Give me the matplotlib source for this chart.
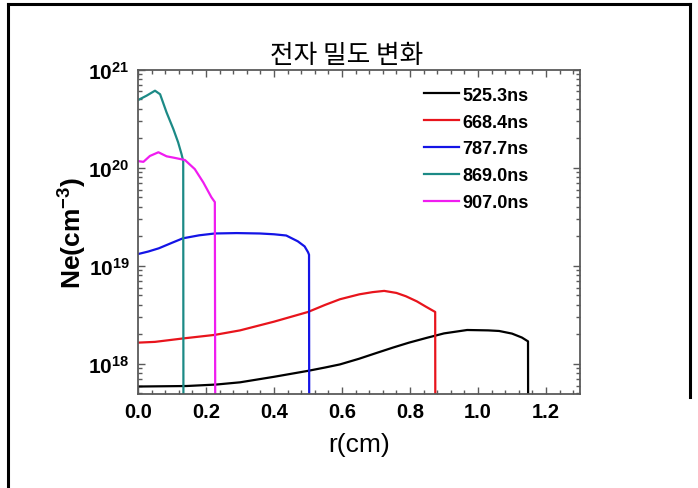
import matplotlib
matplotlib.use("Agg")
import matplotlib.pyplot as plt
from matplotlib.lines import Line2D
from matplotlib.ticker import MultipleLocator, LogLocator, NullFormatter

plt.rcParams['mathtext.fontset'] = 'custom'
plt.rcParams['mathtext.rm'] = 'Liberation Sans'
plt.rcParams['mathtext.bf'] = 'Liberation Sans:bold'

LATIN = ['Liberation Sans', 'DejaVu Sans']

# electron density profiles, r in cm, Ne in cm^-3 (last point = edge drop-off)
r_525 = [0, 0.143, 0.23, 0.3, 0.4, 0.5, 0.55, 0.594, 0.65, 0.70, 0.75, 0.797, 0.85,
         0.9, 0.968, 1.0, 1.03, 1.062, 1.10, 1.129, 1.147, 1.148]
ne_525 = [5.89e17, 5.96e17, 6.17e17, 6.5e17, 7.4e17, 8.51e17, 9.2e17, 9.9e17, 1.13e18,
          1.29e18, 1.47e18, 1.65e18, 1.85e18, 2.05e18, 2.22e18, 2.21e18, 2.2e18,
          2.17e18, 2.04e18, 1.86e18, 1.70e18, 1e16]

r_668 = [0, 0.05, 0.132, 0.226, 0.3, 0.4, 0.5, 0.55, 0.594, 0.651, 0.69, 0.724,
         0.76, 0.788, 0.82, 0.846, 0.874, 0.875]
ne_668 = [1.65e18, 1.68e18, 1.82e18, 1.98e18, 2.2e18, 2.7e18, 3.39e18, 4.0e18,
          4.57e18, 5.13e18, 5.4e18, 5.56e18, 5.3e18, 4.90e18, 4.35e18, 3.85e18,
          3.39e18, 1e16]

r_787 = [0, 0.03, 0.061, 0.1, 0.132, 0.18, 0.226, 0.29, 0.358, 0.4, 0.436,
         0.47, 0.49, 0.5, 0.503, 0.504]
ne_787 = [1.32e19, 1.4e19, 1.51e19, 1.72e19, 1.91e19, 2.05e19, 2.14e19, 2.16e19,
          2.14e19, 2.1e19, 2.04e19, 1.78e19, 1.58e19, 1.38e19, 1.30e19, 1e16]

r_869 = [0, 0.025, 0.05, 0.065, 0.084, 0.104, 0.118, 0.128, 0.133, 0.134]
ne_869 = [4.90e20, 5.43e20, 6.11e20, 5.62e20, 3.67e20, 2.48e20, 1.82e20, 1.38e20,
          1.17e20, 1e16]

r_907 = [0, 0.016, 0.035, 0.06, 0.084, 0.109, 0.138, 0.167, 0.192, 0.216, 0.226, 0.228]
ne_907 = [1.17e20, 1.15e20, 1.32e20, 1.44e20, 1.31e20, 1.26e20, 1.20e20, 9.7e19,
          7.1e19, 5.0e19, 4.47e19, 1e16]

series = [("525.3ns", r_525, ne_525, "black"),
          ("668.4ns", r_668, ne_668, "#e8141c"),
          ("787.7ns", r_787, ne_787, "#1414e6"),
          ("869.0ns", r_869, ne_869, "#1c8a86"),
          ("907.0ns", r_907, ne_907, "#f01cf0")]

ytick_vals = [1e18, 1e19, 1e20, 1e21]
ytick_text = [r'$\mathbf{10^{18}}$', r'$\mathbf{10^{19}}$',
              r'$\mathbf{10^{20}}$', r'$\mathbf{10^{21}}$']
xtick_vals = [0.0, 0.2, 0.4, 0.6, 0.8, 1.0, 1.2]

fig = plt.figure(figsize=(6.98, 4.89), dpi=100)
ax = fig.add_axes([0.1977, 0.1922, 0.6333, 0.6632])

for name, r, ne, color in series:
    ax.plot(r, ne, color=color, lw=1.6, label=name)

ax.set_yscale('log')
ax.set_xlim(0, 1.3)
ax.set_ylim(4.94e17, 1e21)

ax.set_xticks(xtick_vals)
ax.set_xticklabels([f"{v:.1f}" for v in xtick_vals], fontsize=14.5,
                   fontweight='bold', family=LATIN)
ax.xaxis.set_minor_locator(MultipleLocator(0.04))
ax.set_yticks(ytick_vals)
ax.set_yticklabels(ytick_text, fontsize=15)
ax.yaxis.set_minor_locator(LogLocator(base=10, subs=range(2, 10)))
ax.yaxis.set_minor_formatter(NullFormatter())

frame_c = '#5a5a5a'
for sp in ax.spines.values():
    sp.set_color(frame_c)
    sp.set_linewidth(1.3)
ax.tick_params(which='both', direction='in', top=True, right=True,
               color=frame_c, width=1.0)
ax.tick_params(which='major', length=5, pad=6)
ax.tick_params(which='minor', length=3)

ax.set_xlabel("r(cm)", fontsize=19, family=LATIN, labelpad=8)
ax.set_ylabel(r"Ne(cm$^{\mathbf{-3}}$)", fontsize=19, fontweight='bold',
              family=LATIN, labelpad=0)

fig.text(0.496, 0.885, "전자 밀도 변화", fontsize=18.5, ha='center', va='center',
         family=['Noto Sans CJK KR', 'DejaVu Sans'])

leg = ax.legend(loc='upper left', bbox_to_anchor=(0.647, 0.948), frameon=False,
                borderpad=0, borderaxespad=0, handlelength=1.95,
                handletextpad=0.18, labelspacing=0.55,
                prop={'family': LATIN, 'weight': 'bold', 'size': 13})

# page border around the chart
border = dict(color='black', lw=2.2, transform=fig.transFigure)
fig.add_artist(Line2D([8 / 698, 690 / 698], [1 - 5 / 489, 1 - 5 / 489], **border))
fig.add_artist(Line2D([8 / 698, 8 / 698], [1 - 5 / 489, 0], **border))
fig.add_artist(Line2D([690 / 698, 690 / 698], [1 - 5 / 489, 1 - 398 / 489], **border))

fig.savefig("out.png", dpi=100)
